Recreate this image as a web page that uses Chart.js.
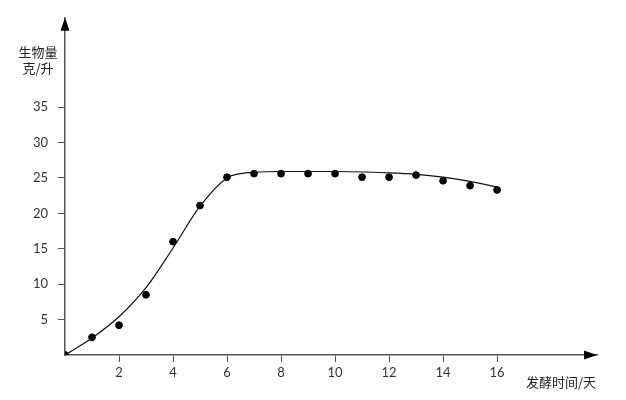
<!DOCTYPE html>
<html>
<head>
<meta charset="utf-8">
<script src="https://cdn.jsdelivr.net/npm/chart.js@4"></script>
<style>
  body { margin: 0; background: #fff; }
  #wrap { width: 626px; height: 400px; }
</style>
</head>
<body>
<div id="wrap"><canvas id="bioChart" width="626" height="400"></canvas></div>
<script>
// measured points (day, g/L)
var days = [0, 1, 2, 3, 4, 5, 6, 7, 8, 9, 10, 11, 12, 13, 14, 15, 16];
var biomass = [0, 2.5, 4.2, 8.5, 16.0, 21.1, 25.1, 25.6, 25.6, 25.6, 25.6, 25.1, 25.1, 25.4, 24.6, 23.9, 23.3];

// fitted curve
var curveDays = [0, 1, 2, 3, 4, 5, 6, 6.5, 7, 8, 10, 12, 13, 14, 15, 16];
var curveValues = [0, 2.4, 5.4, 9.5, 15.1, 21.0, 25.0, 25.6, 25.8, 25.9, 25.9, 25.7, 25.5, 25.1, 24.5, 23.7];

var xTicks = [2, 4, 6, 8, 10, 12, 14, 16];
var yTicks = [5, 10, 15, 20, 25, 30, 35];

var yTitle = ['生物量', '克/升'];
var xTitle = '发酵时间/天';

var axisColor = '#555';
var fontFamily = "'Lato', 'Noto Sans', 'Noto Sans CJK SC', sans-serif";

// arrows on the axis ends + axis titles
var axisDecor = {
    id: 'axisDecor',
    afterDraw: function (chart) {
        var ctx = chart.ctx;
        var xs = chart.scales.x, ys = chart.scales.y;
        var x0 = xs.getPixelForValue(0), y0 = ys.getPixelForValue(0);
        var xEnd = xs.right, yEnd = ys.top;
        ctx.save();
        ctx.fillStyle = '#000';
        // y arrow
        ctx.beginPath();
        ctx.moveTo(x0, yEnd);
        ctx.lineTo(x0 - 4.5, yEnd + 13);
        ctx.lineTo(x0 + 4.5, yEnd + 13);
        ctx.closePath();
        ctx.fill();
        // x arrow
        ctx.beginPath();
        ctx.moveTo(xEnd, y0);
        ctx.lineTo(xEnd - 13, y0 - 4.5);
        ctx.lineTo(xEnd - 13, y0 + 4.5);
        ctx.closePath();
        ctx.fill();

        ctx.fillStyle = '#222';
        ctx.font = "13px 'Noto Sans CJK SC', sans-serif";
        ctx.textAlign = 'center';
        ctx.textBaseline = 'middle';
        ctx.fillText(yTitle[0], 38, 52);
        ctx.fillText(yTitle[1], 38, 68);
        ctx.textAlign = 'left';
        ctx.fillText(xTitle, 526, 382);
        ctx.restore();
    }
};

var ctx = document.getElementById('bioChart');
var bioChart = new Chart(ctx, {
    type: 'scatter',
    data: {
        datasets: [{
            label: 'curve',
            data: curveDays.map(function (d, i) { return { x: d, y: curveValues[i] }; }),
            showLine: true,
            borderColor: '#111',
            borderWidth: 1.2,
            pointRadius: 0,
            cubicInterpolationMode: 'monotone',
            fill: false
        }, {
            label: 'measured',
            data: days.map(function (d, i) { return { x: d, y: biomass[i] }; }),
            backgroundColor: '#000',
            borderColor: '#000',
            pointRadius: 3.4,
            showLine: false
        }]
    },
    options: {
        responsive: false,
        animation: false,
        layout: { padding: { top: 15, right: 29, left: 0, bottom: 0 } },
        plugins: {
            legend: { display: false },
            tooltip: { enabled: false }
        },
        scales: {
            x: {
                type: 'linear',
                min: 0,
                max: 19.7,
                afterBuildTicks: function (axis) {
                    axis.ticks = xTicks.map(function (v) { return { value: v }; });
                },
                afterFit: function (axis) { axis.height = 45; },
                grid: {
                    drawOnChartArea: false,
                    drawTicks: true,
                    tickLength: 7,
                    color: axisColor,
                    lineWidth: 1
                },
                border: { color: axisColor, width: 1.5 },
                ticks: {
                    padding: 3,
                    color: '#333',
                    font: { family: fontFamily, size: 13 }
                }
            },
            y: {
                type: 'linear',
                min: 0,
                max: 47.6,
                afterBuildTicks: function (axis) {
                    axis.ticks = yTicks.map(function (v) { return { value: v }; });
                },
                afterFit: function (axis) { axis.width = 65; },
                grid: {
                    drawOnChartArea: false,
                    drawTicks: true,
                    tickLength: 7,
                    color: axisColor,
                    lineWidth: 1
                },
                border: { color: axisColor, width: 1.5 },
                ticks: {
                    padding: 10,
                    color: '#333',
                    font: { family: fontFamily, size: 13 }
                }
            }
        }
    },
    plugins: [axisDecor]
});
</script>
</body>
</html>
